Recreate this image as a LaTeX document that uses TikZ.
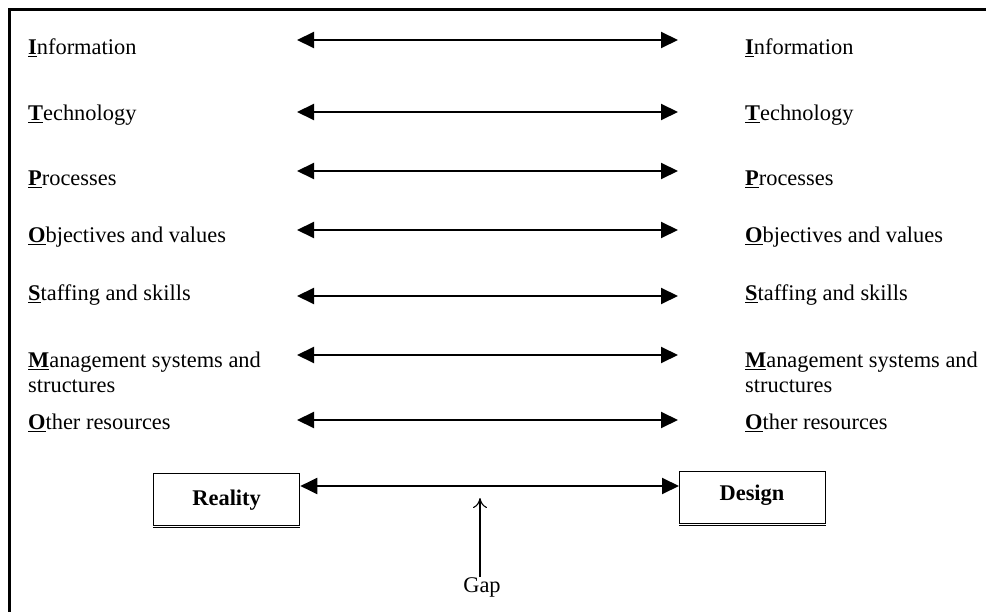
\documentclass[tikz,border=0pt]{standalone}
\usepackage{fontspec}
\setmainfont{Liberation Serif}
\usetikzlibrary{arrows.meta}
\newcommand\keyletter[1]{\underline{\textbf{#1}}}
\begin{document}
\begin{tikzpicture}[x=1pt,y=-1pt,
  every node/.style={font=\fontsize{22.4}{25}\selectfont, inner sep=0pt},
  label/.style={anchor=base west, align=left},
  link/.style={line width=2pt, {Triangle[length=17pt,width=16pt]}-{Triangle[length=17pt,width=16pt]}},
  stage/.style={draw, line width=1.3pt, minimum width=146pt, minimum height=52pt, font=\fontsize{22.4}{25}\selectfont\bfseries},
  gaparrow/.style={line width=1.1pt, -{To[length=10pt,width=14pt]}}]
\useasboundingbox (0,0) rectangle (986,612);
\fill[white] (0,0) rectangle (986,612);
% frame (only left and top edges fall inside the page)
\draw[line width=2.6pt] (9.6,612) -- (9.6,9.6) -- (986,9.6);

% left column (a two-line label is placed by its last baseline)
\node[label] (l1) at (28,55)  {\keyletter{I}nformation};
\node[label] (l2) at (28,121) {\keyletter{T}echnology};
\node[label] (l3) at (28,186) {\keyletter{P}rocesses};
\node[label] (l4) at (28,243) {\keyletter{O}bjectives and values};
\node[label] (l5) at (28,301) {\keyletter{S}taffing and skills};
\node[label] (l6) at (28,393) {\keyletter{M}anagement systems and\\structures};
\node[label] (l7) at (28,430) {\keyletter{O}ther resources};

% right column
\node[label] (r1) at (745,55)  {\keyletter{I}nformation};
\node[label] (r2) at (745,121) {\keyletter{T}echnology};
\node[label] (r3) at (745,186) {\keyletter{P}rocesses};
\node[label] (r4) at (745,243) {\keyletter{O}bjectives and values};
\node[label] (r5) at (745,301) {\keyletter{S}taffing and skills};
\node[label] (r6) at (745,393) {\keyletter{M}anagement systems and\\structures};
\node[label] (r7) at (745,430) {\keyletter{O}ther resources};

% arrow ends for each row
\foreach \i/\y in {1/40,2/112,3/171,4/230,5/296,6/355,7/420}{
  \coordinate (a\i) at (297,\y);
  \coordinate (b\i) at (678,\y);
  \draw[link] (a\i) -- (b\i);
}

% reality and design boxes
\node[stage, anchor=north west] (reality) at (153,473) {Reality};
\node[stage, anchor=north west] (design) at (679,471) {};
\node[font=\fontsize{22.4}{25}\selectfont\bfseries] (designtext) at (752,495) {Design};
\draw[line width=1.2pt] ([yshift=-1.5pt]reality.south west) -- ([yshift=-1.5pt]reality.south east);
\draw[line width=1.2pt] ([yshift=-1.2pt]design.south west) -- ([yshift=-1.2pt]design.south east);

\coordinate (rgap) at (reality.east |- 0,486);
\coordinate (dgap) at (design.west |- 0,486);
\draw[link] (rgap) -- (dgap);

% gap pointer
\node (gap) at (482,587) {Gap};
\coordinate (gaptip) at (480,498);
\draw[gaparrow] ([xshift=-2pt]gap.north) -- (gaptip);
\end{tikzpicture}
\end{document}
